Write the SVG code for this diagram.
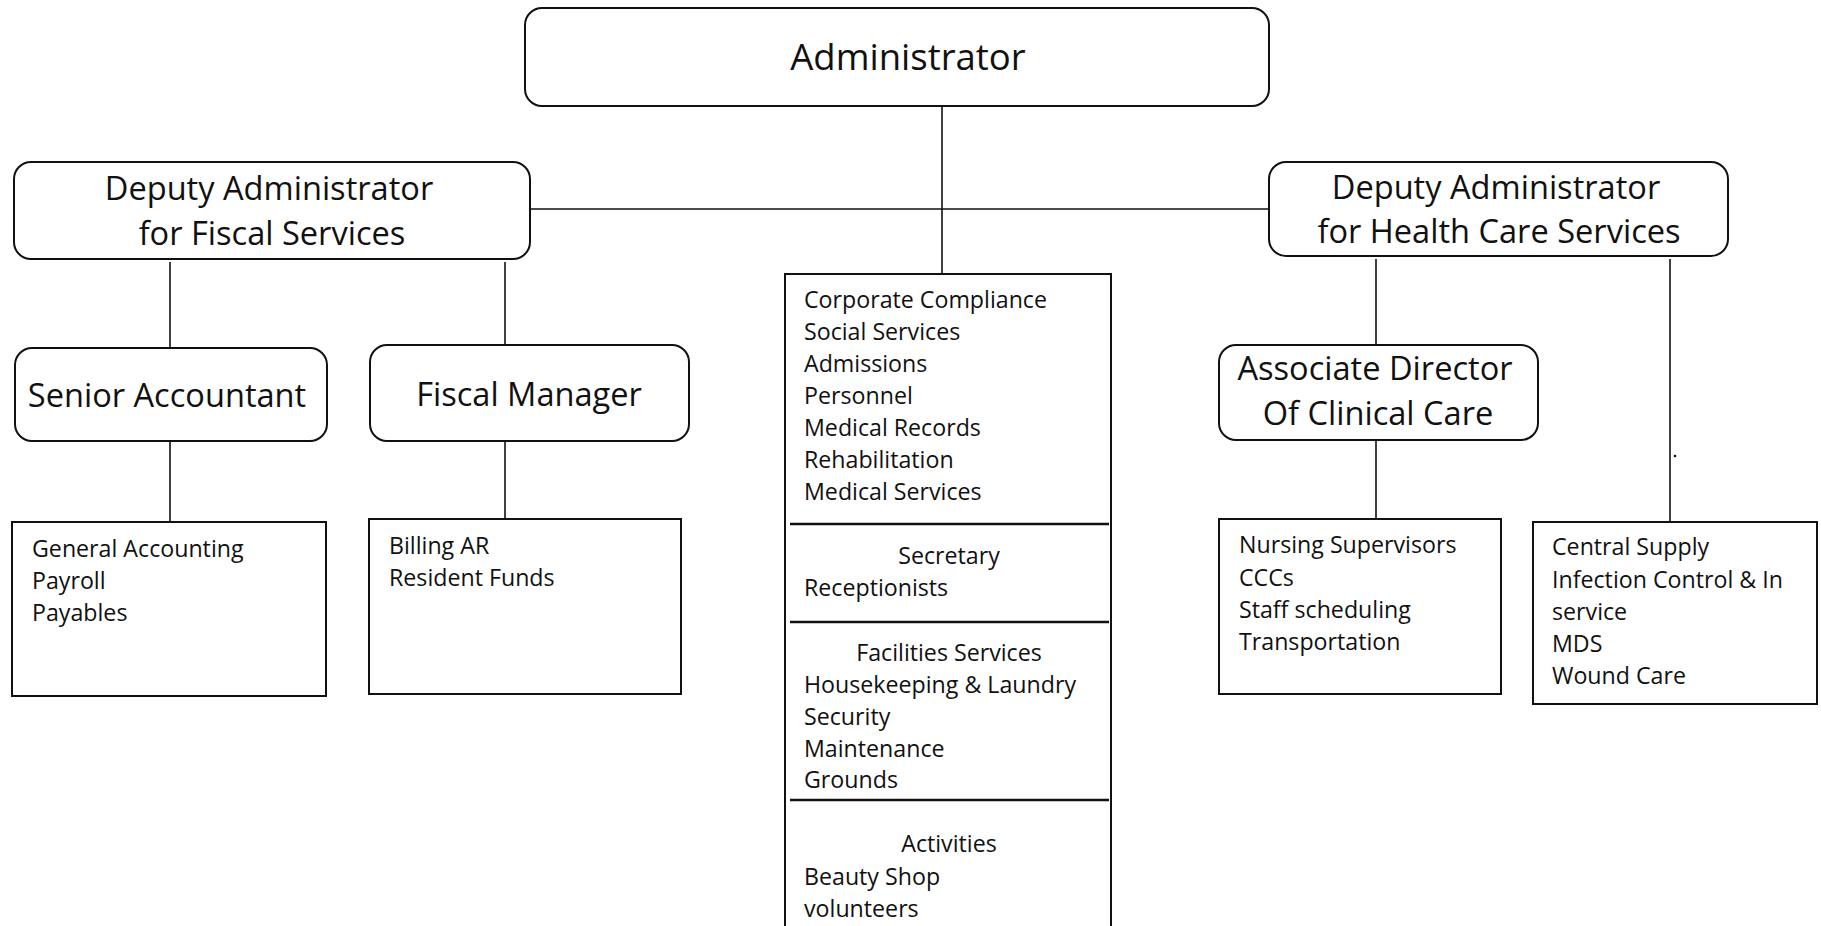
<svg xmlns="http://www.w3.org/2000/svg" width="1821" height="926" viewBox="0 0 1821 926">
<style>
.box{fill:#fff;stroke:#111;stroke-width:2}
.sq{fill:#fff;stroke:#111;stroke-width:2}
.ln{stroke:#111;stroke-width:1.6;fill:none}
.sep{stroke:#111;stroke-width:2.6}
text{font-family:"Open Sans",Lato,"Liberation Sans",sans-serif;fill:#111}
.big{font-size:36.5px;text-anchor:middle}
.ttl{font-size:32.6px;text-anchor:middle}
.bd{font-size:23.2px}
.bc{font-size:23.2px;text-anchor:middle}
</style>
<rect width="1821" height="926" fill="#fff"/>
<g id="connectors">
<line class="ln" x1="942" y1="106" x2="942" y2="274"/>
<line class="ln" x1="530" y1="209" x2="1269" y2="209"/>
<line class="ln" x1="170" y1="262" x2="170" y2="348"/>
<line class="ln" x1="505" y1="262" x2="505" y2="345"/>
<line class="ln" x1="170" y1="441" x2="170" y2="522"/>
<line class="ln" x1="505" y1="441" x2="505" y2="519"/>
<line class="ln" x1="1376" y1="259" x2="1376" y2="345"/>
<line class="ln" x1="1670" y1="259" x2="1670" y2="522"/>
<line class="ln" x1="1376" y1="440" x2="1376" y2="519"/>
<circle cx="1675" cy="456" r="1.3" fill="#111"/>
</g>
<g id="administrator">
<rect class="box" x="525" y="8" width="744" height="98" rx="17"/>
<text class="big" x="908" y="70">Administrator</text>
</g>
<g id="deputy-fiscal">
<rect class="box" x="14" y="162" width="516" height="97" rx="17"/>
<text class="ttl" x="269" y="200">Deputy Administrator</text>
<text class="ttl" x="272" y="245">for Fiscal Services</text>
</g>
<g id="deputy-health">
<rect class="box" x="1269" y="162" width="459" height="94" rx="17"/>
<text class="ttl" x="1496" y="199">Deputy Administrator</text>
<text class="ttl" x="1499" y="243">for Health Care Services</text>
</g>
<g id="senior-accountant">
<rect class="box" x="15" y="348" width="312" height="93" rx="17"/>
<text class="ttl" x="167" y="407">Senior Accountant</text>
</g>
<g id="fiscal-manager">
<rect class="box" x="370" y="345" width="319" height="96" rx="17"/>
<text class="ttl" x="529" y="406">Fiscal Manager</text>
</g>
<g id="associate-director">
<rect class="box" x="1219" y="345" width="319" height="95" rx="17"/>
<text class="ttl" x="1375" y="380">Associate Director</text>
<text class="ttl" x="1378" y="425">Of Clinical Care</text>
</g>
<g id="general-accounting">
<rect class="sq" x="12" y="522" width="314" height="174"/>
<text class="bd" x="32" y="557">General Accounting</text>
<text class="bd" x="32" y="589">Payroll</text>
<text class="bd" x="32" y="621">Payables</text>
</g>
<g id="billing">
<rect class="sq" x="369" y="519" width="312" height="175"/>
<text class="bd" x="389" y="554">Billing AR</text>
<text class="bd" x="389" y="586">Resident Funds</text>
</g>
<g id="central-services">
<rect class="sq" x="785" y="274" width="326" height="680"/>
<text class="bd" x="804" y="308">Corporate Compliance</text>
<text class="bd" x="804" y="340">Social Services</text>
<text class="bd" x="804" y="372">Admissions</text>
<text class="bd" x="804" y="404">Personnel</text>
<text class="bd" x="804" y="436">Medical Records</text>
<text class="bd" x="804" y="468">Rehabilitation</text>
<text class="bd" x="804" y="500">Medical Services</text>
<line class="sep" x1="790" y1="524" x2="1109" y2="524"/>
<text class="bc" x="949" y="564">Secretary</text>
<text class="bd" x="804" y="596">Receptionists</text>
<line class="sep" x1="790" y1="622" x2="1109" y2="622"/>
<text class="bc" x="949" y="661">Facilities Services</text>
<text class="bd" x="804" y="693">Housekeeping &amp; Laundry</text>
<text class="bd" x="804" y="725">Security</text>
<text class="bd" x="804" y="757">Maintenance</text>
<text class="bd" x="804" y="788">Grounds</text>
<line class="sep" x1="790" y1="800" x2="1109" y2="800"/>
<text class="bc" x="949" y="852">Activities</text>
<text class="bd" x="804" y="885">Beauty Shop</text>
<text class="bd" x="804" y="917">volunteers</text>
</g>
<g id="nursing">
<rect class="sq" x="1219" y="519" width="282" height="175"/>
<text class="bd" x="1239" y="553">Nursing Supervisors</text>
<text class="bd" x="1239" y="586">CCCs</text>
<text class="bd" x="1239" y="618">Staff scheduling</text>
<text class="bd" x="1239" y="650">Transportation</text>
</g>
<g id="central-supply">
<rect class="sq" x="1533" y="522" width="284" height="182"/>
<text class="bd" x="1552" y="555">Central Supply</text>
<text class="bd" x="1552" y="588">Infection Control &amp; In</text>
<text class="bd" x="1552" y="620">service</text>
<text class="bd" x="1552" y="652">MDS</text>
<text class="bd" x="1552" y="684">Wound Care</text>
</g>
</svg>
